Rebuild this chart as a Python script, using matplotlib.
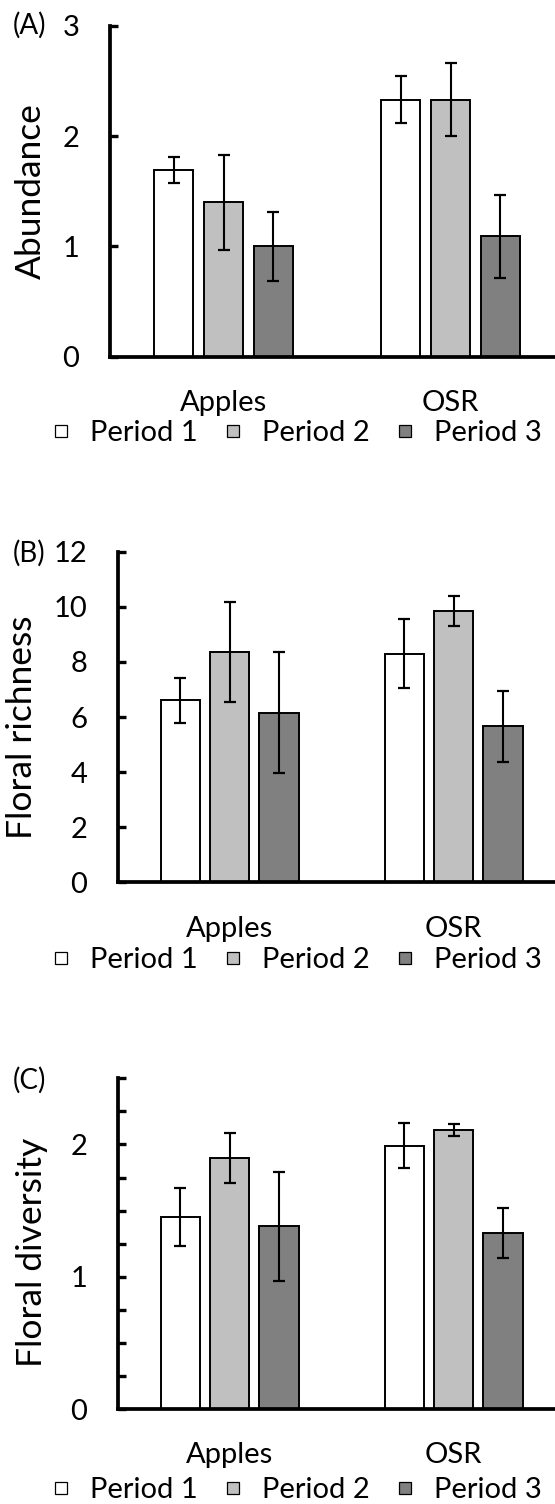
import numpy as np
import matplotlib
matplotlib.use("Agg")
import matplotlib.pyplot as plt
from matplotlib.lines import Line2D

plt.rcParams['font.family'] = ['Lato', 'DejaVu Sans']

crops = ['Apples', 'OSR']
periods = ['Period 1', 'Period 2', 'Period 3']
colours = ['#FFFFFF', '#C0C0C0', '#808080']

# (A) abundance: rows = period, cols = crop
abund_mean = [[1.69, 2.33], [1.40, 2.33], [1.00, 1.09]]
abund_err = [[0.12, 0.21], [0.43, 0.33], [0.31, 0.375]]
# (B) floral richness
rich_mean = [[6.61, 8.30], [8.36, 9.84], [6.16, 5.66]]
rich_err = [[0.82, 1.24], [1.80, 0.54], [2.20, 1.29]]
# (C) floral diversity
div_mean = [[1.45, 1.99], [1.90, 2.11], [1.38, 1.33]]
div_err = [[0.22, 0.17], [0.19, 0.045], [0.41, 0.19]]

W, H = 555, 1504
fig = plt.figure(figsize=(W / 100, H / 100), dpi=100)

def px_axes(left, top, bottom):
    return fig.add_axes([left / W, 1 - bottom / H, (W - left) / W, (bottom - top) / H])

def draw_panel(ax, means, errs, yticks, ylabels, ymax, cat_px):
    x = np.arange(len(crops))
    for i in range(3):
        xi = x + (i - 1) * 0.22
        ax.bar(xi, means[i], width=0.175, color=colours[i],
               edgecolor='black', linewidth=1.4, zorder=2)
        ax.errorbar(xi, means[i], yerr=errs[i], fmt='none',
                    ecolor='black', elinewidth=1.5, capsize=4.2, capthick=1.6, zorder=3)
    ax.set_ylim(0, ymax)
    ax.set_xlim(-0.5, ax.get_position().width * W / cat_px - 0.5)
    ax.set_yticks(yticks)
    ax.set_yticklabels(ylabels, fontsize=21)
    ax.set_xticks(x)
    ax.set_xticklabels(crops, fontsize=21)
    ax.tick_params(axis='x', length=0, pad=24)
    ax.tick_params(axis='y', direction='in', length=6, width=2.4, pad=22)
    for s in ['top', 'right']:
        ax.spines[s].set_visible(False)
    for s in ['left', 'bottom']:
        ax.spines[s].set_linewidth(2.7)
    ax.set_facecolor('none')

def add_legend(ycentre):
    handles = [Line2D([], [], linestyle='none', marker='s', markersize=9.3,
                      markerfacecolor=c, markeredgecolor='black', markeredgewidth=0.9)
               for c in colours]
    fig.legend(handles, periods, loc='center', bbox_to_anchor=(298 / W, 1 - ycentre / H),
               ncol=3, frameon=False, fontsize=21, handlelength=0.45,
               handletextpad=0.75, columnspacing=1.0, borderaxespad=0, borderpad=0)

axA = px_axes(110, 25.7, 356.7)
draw_panel(axA, abund_mean, abund_err, [0, 1, 2, 3], ['0', '1', '2', '3'], 3, 227)
axB = px_axes(117.7, 551.7, 882.3)
draw_panel(axB, rich_mean, rich_err, [0, 2, 4, 6, 8, 10, 12],
           ['0', '2', '4', '6', '8', '10', '12'], 12, 224)
axC = px_axes(117.7, 1078.3, 1409)
div_ticks = [0, 0.25, 0.5, 0.75, 1, 1.25, 1.5, 1.75, 2, 2.25, 2.5]
div_labels = ['0', '', '', '', '1', '', '', '', '2', '', '']
draw_panel(axC, div_mean, div_err, div_ticks, div_labels, 2.5, 224)

add_legend(433)
add_legend(960)
add_legend(1490)

fig.text(31 / W, 1 - 191 / H, 'Abundance', rotation=90, ha='center', va='center', fontsize=25.5)
fig.text(22 / W, 1 - 727 / H, 'Floral richness', rotation=90, ha='center', va='center', fontsize=25.5)
fig.text(32 / W, 1 - 1252 / H, 'Floral diversity', rotation=90, ha='center', va='center', fontsize=25.5)

fig.text(13 / W, 1 - 25 / H, '(A)', ha='left', va='center', fontsize=20)
fig.text(13 / W, 1 - 553 / H, '(B)', ha='left', va='center', fontsize=20)
fig.text(13 / W, 1 - 1080 / H, '(C)', ha='left', va='center', fontsize=20)

fig.savefig('out.png', dpi=100)
